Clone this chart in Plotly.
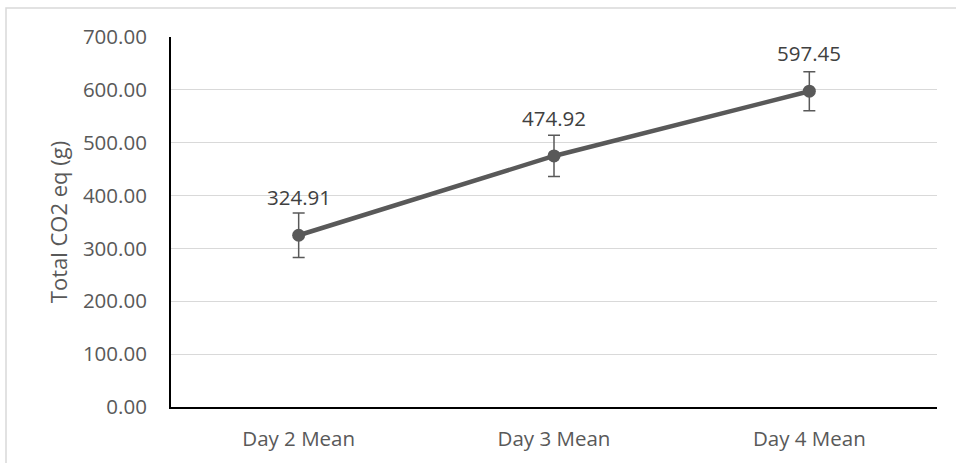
import plotly.graph_objects as go

# Mean total CO2-equivalent per day with error bars
categories = ["Day 2 Mean", "Day 3 Mean", "Day 4 Mean"]
means = [324.91, 474.92, 597.45]
errors = [42, 39, 37]
y_ticks = [0, 100, 200, 300, 400, 500, 600, 700]

W, H = 956, 463
L, R, T, B = 171, 19, 37, 56

line_color = "#595959"
font_family = "'Open Sans', Lato, sans-serif"
fs = 20.5

fig = go.Figure()
fig.add_trace(go.Scatter(
    x=categories,
    y=means,
    mode="lines+markers",
    line=dict(color=line_color, width=4.5),
    marker=dict(color=line_color, size=13),
    error_y=dict(type="data", array=errors, visible=True,
                 color=line_color, thickness=1.5, width=6),
    hoverinfo="skip",
    showlegend=False,
))

# value labels above each point
for c, v in zip(categories, means):
    fig.add_annotation(
        x=c, y=v, text=f"{v:.2f}", showarrow=False,
        yanchor="bottom", yshift=22,
        font=dict(family=font_family, size=fs, color="#404040"),
    )

# light outer chart frame
pw, ph = W - L - R, H - T - B
x0 = (6 - L) / pw
y1 = (H - 8 - B) / ph
fig.add_shape(type="rect", xref="paper", yref="paper",
              x0=x0, x1=(W + 20 - L) / pw, y0=(-20 - B) / ph, y1=y1,
              line=dict(color="#d9d9d9", width=1.5), layer="below")

fig.update_layout(
    width=W, height=H,
    margin=dict(l=L, r=R, t=T, b=B),
    paper_bgcolor="white", plot_bgcolor="white",
    font=dict(family=font_family, size=fs, color="#595959"),
    xaxis=dict(
        type="category",
        range=[-0.5, 2.5],
        showgrid=False,
        showline=True, linecolor="black", linewidth=2,
        ticks="", ticklabelstandoff=12,
        tickfont=dict(size=fs, color="#595959"),
        fixedrange=True,
    ),
    yaxis=dict(
        range=[0, 700],
        tickvals=y_ticks,
        ticktext=[f"{t:.2f}" for t in y_ticks],
        showgrid=True, gridcolor="#d9d9d9", gridwidth=1,
        showline=True, linecolor="black", linewidth=2,
        zeroline=False,
        ticks="", ticklabelstandoff=18,
        tickfont=dict(size=fs, color="#595959"),
        title=dict(text="Total CO2 eq (g)", standoff=9,
                   font=dict(size=22, color="#595959")),
        fixedrange=True,
    ),
)

fig.write_html("out.html")
